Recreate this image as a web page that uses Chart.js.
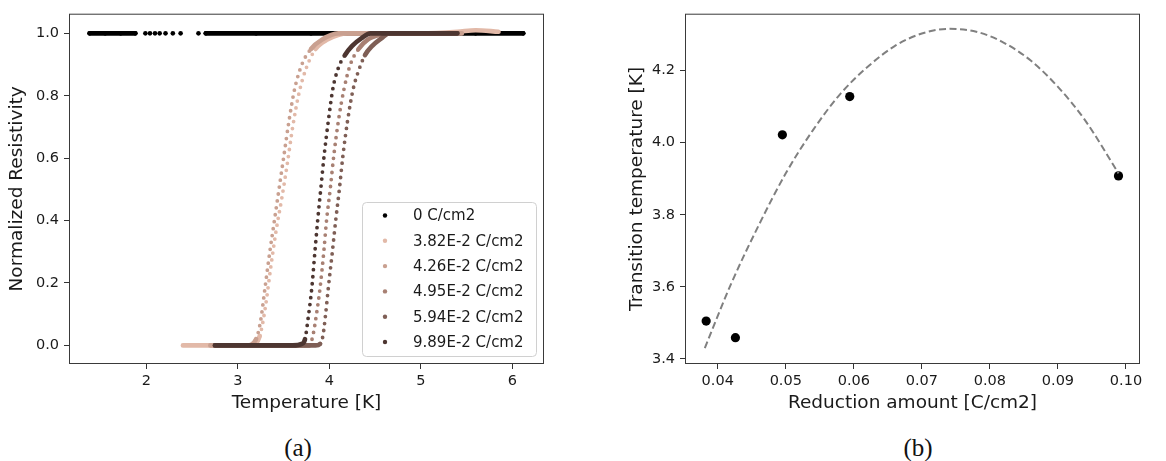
<!DOCTYPE html>
<html>
<head>
<meta charset="utf-8">
<script src="https://cdn.jsdelivr.net/npm/chart.js@4.4.0/dist/chart.umd.min.js"></script>
<style>
  body { margin: 0; background: #fff; width: 1166px; height: 461px; position: relative; overflow: hidden; }
  canvas { position: absolute; top: 0; }
  #left { left: 0; }
  #right { left: 620px; }
  .cap { position: absolute; width: 100px; text-align: center; font-family: 'Liberation Serif', serif; font-size: 25px; line-height: 30px; top: 433px; color: #111; }
</style>
</head>
<body>
<canvas id="left" width="600" height="420"></canvas>
<canvas id="right" width="546" height="420"></canvas>
<div class="cap" style="left:248px">(a)</div>
<div class="cap" style="left:868px">(b)</div>
<script>
// ---- panel (a): normalized resistivity vs temperature ----
const seriesLabels = ['0 C/cm2', '3.82E-2 C/cm2', '4.26E-2 C/cm2', '4.95E-2 C/cm2', '5.94E-2 C/cm2', '9.89E-2 C/cm2'];
const seriesColors = ['#000000', '#e2b9a8', '#c9a090', '#a88073', '#7f5f56', '#4d3631'];

const zeroT = [1.38, 1.55, 1.72, 1.88, 1.94, 1.99, 2.02, 2.04, 2.07, 2.095, 2.12, 2.146, 2.18, 2.21, 2.25, 2.29, 2.33, 2.375, 2.47, 2.57, 2.61, 2.65, 3.2, 3.8, 4.4, 5.0, 5.6, 6.12];
const zeroR = [1, 1, 1, 1, null, 1, null, 1, null, 1, null, 1, null, 1, null, 1, null, 1, null, 1, null, 1, 1, 1, 1, 1, 1, 1];

const t382 = [2.40, 2.6, 2.8, 3.0, 3.15, 3.24, 3.30, 3.36, 3.42, 3.48, 3.54, 3.60, 3.67, 3.75, 3.85, 3.98, 4.2, 4.6, 5.0, 5.4, 5.6, 5.85];
const r382 = [0, 0, 0, 0, 0, 0.03, 0.12, 0.25, 0.37, 0.47, 0.58, 0.70, 0.81, 0.89, 0.95, 0.98, 1.0, 1.0, 1.0, 1.005, 1.01, 1.005];

const t426 = [2.70, 2.9, 3.1, 3.20, 3.25, 3.30, 3.35, 3.40, 3.45, 3.50, 3.56, 3.62, 3.70, 3.80, 3.92, 4.1, 4.4, 4.8, 5.2, 5.45];
const r426 = [0, 0, 0, 0.02, 0.08, 0.19, 0.30, 0.40, 0.50, 0.60, 0.72, 0.82, 0.90, 0.95, 0.98, 1.0, 1.0, 1.0, 1.0, 1.0];

const t495 = [2.75, 3.0, 3.3, 3.6, 3.78, 3.82, 3.86, 3.90, 3.94, 3.97, 4.01, 4.05, 4.10, 4.16, 4.23, 4.32, 4.42, 4.55, 4.7, 5.0, 5.4];
const r495 = [0, 0, 0, 0, 0, 0.03, 0.10, 0.186, 0.30, 0.40, 0.50, 0.61, 0.72, 0.82, 0.90, 0.95, 0.98, 0.995, 1.0, 1.0, 1.0];

const t594 = [2.75, 3.0, 3.3, 3.6, 3.85, 3.90, 3.93, 3.96, 3.99, 4.03, 4.07, 4.11, 4.15, 4.20, 4.26, 4.32, 4.39, 4.47, 4.57, 4.65, 5.0, 5.4];
const r594 = [0, 0, 0, 0, 0, 0.005, 0.03, 0.10, 0.186, 0.29, 0.40, 0.50, 0.61, 0.72, 0.82, 0.88, 0.93, 0.96, 0.984, 1.0, 1.0, 1.0];

const t989 = [2.75, 3.0, 3.3, 3.6, 3.70, 3.735, 3.77, 3.81, 3.84, 3.873, 3.91, 3.945, 3.99, 4.04, 4.10, 4.17, 4.25, 4.35, 4.45, 4.7, 5.0, 5.4];
const r989 = [0, 0, 0, 0, 0.005, 0.02, 0.09, 0.187, 0.29, 0.40, 0.51, 0.612, 0.72, 0.824, 0.89, 0.93, 0.96, 0.984, 1.0, 1.0, 1.0, 1.0];

const tempTicks = [2, 3, 4, 5, 6];
const resTicks = [0.0, 0.2, 0.4, 0.6, 0.8, 1.0];

// ---- panel (b): transition temperature vs reduction amount ----
const reduction = [0.0383, 0.0426, 0.0495, 0.0594, 0.0989];
const transition = [3.505, 3.459, 4.022, 4.128, 3.908];
const fitX = [0.0381, 0.042, 0.046, 0.050, 0.054, 0.058, 0.062, 0.066, 0.070, 0.074, 0.078, 0.082, 0.086, 0.090, 0.094, 0.0989];
const fitY = [3.43, 3.61, 3.77, 3.915, 4.035, 4.135, 4.21, 4.268, 4.303, 4.316, 4.308, 4.278, 4.228, 4.155, 4.062, 3.915];
const redTicks = [0.04, 0.05, 0.06, 0.07, 0.08, 0.09, 0.10];
const tcTicks = [3.4, 3.6, 3.8, 4.0, 4.2];

Chart.defaults.font.family = "'DejaVu Sans', sans-serif";
Chart.defaults.color = '#1a1a1a';

function pairs(xs, ys) {
  return xs.map((x, i) => ({ x: x, y: ys[i] }));
}

// steep parts of a curve look dotted (sparse points), flat parts look solid
function steep(ctx) {
  const dx = Math.abs(ctx.p1.x - ctx.p0.x);
  const dy = Math.abs(ctx.p1.y - ctx.p0.y);
  return dy > 1.6 * dx;
}

const frame = {
  id: 'frame',
  afterDraw(chart) {
    const { ctx, chartArea: a } = chart;
    ctx.save();
    ctx.strokeStyle = '#3a3a3a';
    ctx.lineWidth = 1;
    ctx.strokeRect(a.left + 0.5, a.top + 0.5, a.right - a.left - 1, a.bottom - a.top - 1);
    ctx.restore();
  }
};

const legendBox = {
  id: 'legendBox',
  afterDraw(chart) {
    const { ctx, chartArea: a } = chart;
    const w = 174, h = 154;
    const x0 = a.right - 8 - w, y0 = a.bottom - 8 - h;
    ctx.save();
    ctx.fillStyle = 'rgba(255,255,255,0.8)';
    ctx.strokeStyle = '#d0d0d0';
    ctx.lineWidth = 1;
    ctx.beginPath();
    ctx.roundRect(x0 + 0.5, y0 + 0.5, w, h, 4);
    ctx.fill();
    ctx.stroke();
    ctx.font = "15px 'DejaVu Sans'";
    ctx.textBaseline = 'middle';
    seriesLabels.forEach((label, i) => {
      const y = y0 + 13.5 + i * 25.3;
      ctx.fillStyle = seriesColors[i];
      ctx.beginPath();
      ctx.arc(x0 + 23, y, 2.2, 0, Math.PI * 2);
      ctx.fill();
      ctx.fillStyle = '#1a1a1a';
      ctx.fillText(label, x0 + 51, y + 1);
    });
    ctx.restore();
  }
};

function axis(min, max, tickVals, digits, title, isX, size) {
  return {
    type: 'linear',
    min: min,
    max: max,
    afterBuildTicks: s => { s.ticks = tickVals.map(v => ({ value: v })); },
    afterFit: s => { if (isX) s.height = size; else s.width = size; },
    ticks: {
      font: { size: 14.5 },
      color: '#1a1a1a',
      padding: isX ? 4 : 5,
      maxRotation: 0,
      callback: v => v.toFixed(digits)
    },
    grid: { display: true, drawOnChartArea: false, drawTicks: true, tickLength: 5, color: '#333' },
    border: { display: false },
    title: {
      display: true,
      text: title,
      color: '#1a1a1a',
      font: { size: 18.5 },
      padding: isX ? { top: 0, bottom: 6 } : { top: 6, bottom: 0 }
    }
  };
}

const curveSets = [
  [zeroT, zeroR], [t382, r382], [t426, r426], [t495, r495], [t594, r594], [t989, r989]
];

new Chart(document.getElementById('left'), {
  type: 'scatter',
  data: {
    datasets: curveSets.map((s, i) => ({
      label: seriesLabels[i],
      data: pairs(s[0], s[1]),
      order: 6 - i,
      showLine: true,
      borderColor: seriesColors[i],
      backgroundColor: seriesColors[i],
      borderWidth: 4.6,
      borderCapStyle: 'round',
      borderJoinStyle: 'round',
      cubicInterpolationMode: 'monotone',
      pointRadius: i === 0 ? 2.3 : 0,
      pointBorderWidth: 0,
      segment: {
        borderDash: ctx => steep(ctx) ? [0, 7] : undefined,
        borderWidth: ctx => steep(ctx) ? 3.8 : undefined
      }
    }))
  },
  options: {
    responsive: false,
    animation: false,
    layout: { padding: { top: 12, right: 56, bottom: 0, left: 0 } },
    plugins: { legend: { display: false }, tooltip: { enabled: false } },
    scales: {
      x: axis(1.155, 6.347, tempTicks, 0, 'Temperature [K]', true, 56),
      y: axis(-0.0596, 1.063, resTicks, 1, 'Normalized Resistivity', false, 69)
    }
  },
  plugins: [frame, legendBox]
});

new Chart(document.getElementById('right'), {
  type: 'scatter',
  data: {
    datasets: [
      {
        label: 'fit',
        data: pairs(fitX, fitY),
        order: 0,
        showLine: true,
        borderColor: '#808080',
        borderWidth: 2,
        borderDash: [7, 3.5],
        cubicInterpolationMode: 'monotone',
        pointRadius: 0
      },
      {
        label: 'Tc',
        data: pairs(reduction, transition),
        order: 1,
        backgroundColor: '#000',
        borderWidth: 0,
        pointRadius: 4.6
      }
    ]
  },
  options: {
    responsive: false,
    animation: false,
    layout: { padding: { top: 12, right: 26, bottom: 0, left: 0 } },
    plugins: { legend: { display: false }, tooltip: { enabled: false } },
    scales: {
      x: axis(0.03519, 0.10206, redTicks, 2, 'Reduction amount [C/cm2]', true, 56),
      y: axis(3.386, 4.358, tcTicks, 1, 'Transition temperature [K]', false, 65)
    }
  },
  plugins: [frame]
});
</script>
</body>
</html>
